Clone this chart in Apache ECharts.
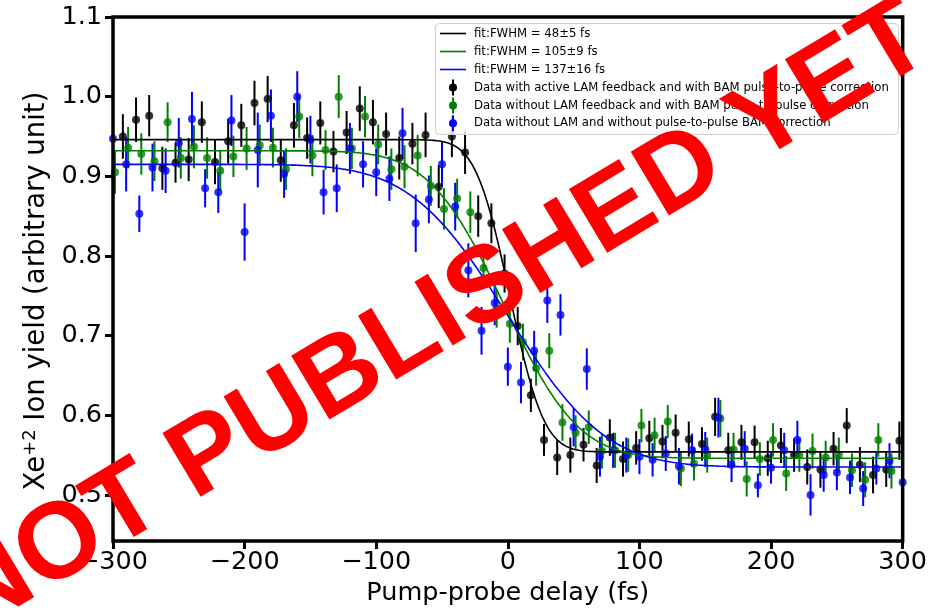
<!DOCTYPE html>
<html>
<head>
<meta charset="utf-8">
<script src="https://cdn.jsdelivr.net/npm/echarts@6/dist/echarts.min.js"></script>
<style>
  html, body { margin: 0; padding: 0; background: #ffffff; }
  #chart { width: 930px; height: 611px; }
</style>
</head>
<body>
<div id="chart"></div>
<script>
// Pump-probe delays (fs) for each measurement set
const blackX = [-292.5,-282.5,-272.5,-262.5,-252.5,-242.5,-232.5,-222.5,-212.5,-202.5,
  -192.5,-182.5,-172.5,-162.5,-152.5,-142.5,-132.5,-122.5,-112.5,-102.5,
  -92.5,-82.5,-72.5,-62.5,-52.5,-42.5,-32.5,-22.5,-12.5,-2.5,
  7.5,17.5,27.5,37.5,47.5,57.5,67.5,77.5,87.5,97.5,
  107.5,117.5,127.5,137.5,147.5,157.5,167.5,177.5,187.5,197.5,
  207.5,217.5,227.5,237.5,247.5,257.5,267.5,277.5,287.5,297.5];
const blackY = [0.950,0.971,0.976,0.910,0.917,0.921,0.968,0.918,0.944,0.964,
  0.992,0.997,0.920,0.964,0.948,0.967,0.931,0.955,0.985,0.968,
  0.953,0.923,0.941,0.952,0.887,0.950,0.930,0.850,0.841,0.778,
  0.712,0.625,0.569,0.547,0.550,0.563,0.537,0.572,0.545,0.559,
  0.571,0.567,0.578,0.570,0.564,0.598,0.556,0.566,0.566,0.546,
  0.562,0.550,0.535,0.532,0.558,0.587,0.538,0.525,0.532,0.568];
const blackErr = [0.028,0.028,0.026,0.027,0.025,0.027,0.026,0.028,0.028,0.027,
  0.028,0.029,0.027,0.028,0.026,0.027,0.026,0.027,0.028,0.028,
  0.027,0.027,0.026,0.028,0.027,0.026,0.027,0.026,0.025,0.024,
  0.024,0.021,0.020,0.022,0.022,0.021,0.022,0.023,0.022,0.021,
  0.022,0.021,0.023,0.022,0.021,0.024,0.022,0.022,0.021,0.022,
  0.022,0.021,0.022,0.023,0.021,0.022,0.022,0.023,0.022,0.024];

const greenX = [-298.5,-288.5,-278.5,-268.5,-258.5,-248.5,-238.5,-228.5,-218.5,-208.5,
  -198.5,-188.5,-178.5,-168.5,-158.5,-148.5,-138.5,-128.5,-118.5,-108.5,
  -98.5,-88.5,-78.5,-68.5,-58.5,-48.5,-38.5,-28.5,-18.5,-8.5,
  1.5,11.5,21.5,31.5,41.5,51.5,61.5,71.5,81.5,91.5,
  101.5,111.5,121.5,131.5,141.5,151.5,161.5,171.5,181.5,191.5,
  201.5,211.5,221.5,231.5,241.5,251.5,261.5,271.5,281.5,291.5];
const greenY = [0.905,0.936,0.928,0.919,0.968,0.923,0.937,0.923,0.907,0.925,
  0.935,0.939,0.936,0.909,0.975,0.926,0.933,1.000,0.935,0.975,
  0.940,0.909,0.912,0.926,0.888,0.859,0.872,0.855,0.785,0.734,
  0.715,0.692,0.659,0.681,0.591,0.578,0.585,0.555,0.556,0.550,
  0.587,0.575,0.592,0.533,0.539,0.550,0.596,0.557,0.520,0.545,
  0.569,0.527,0.550,0.555,0.547,0.550,0.531,0.519,0.569,0.530];
const greenErr = [0.027,0.026,0.026,0.025,0.025,0.026,0.027,0.026,0.025,0.026,
  0.027,0.026,0.025,0.026,0.027,0.026,0.025,0.027,0.026,0.026,
  0.025,0.026,0.027,0.026,0.025,0.026,0.025,0.026,0.025,0.024,
  0.024,0.023,0.022,0.022,0.023,0.022,0.021,0.022,0.022,0.021,
  0.021,0.022,0.021,0.022,0.021,0.022,0.023,0.021,0.022,0.021,
  0.021,0.022,0.021,0.022,0.021,0.022,0.021,0.022,0.021,0.022];

const blueX = [-300,-290,-280,-270,-260,-250,-240,-230,-220,-210,
  -200,-190,-180,-170,-160,-150,-140,-130,-120,-110,
  -100,-90,-80,-70,-60,-50,-40,-30,-20,-10,
  0,10,20,30,40,50,60,70,80,90,
  100,110,120,130,140,150,160,170,180,190,
  200,210,220,230,240,250,260,270,280,290,300];
const blueY = [0.947,0.915,0.853,0.911,0.907,0.942,0.972,0.885,0.880,0.970,
  0.830,0.933,0.976,0.903,1.000,0.946,0.880,0.885,0.935,0.915,
  0.905,0.897,0.954,0.841,0.871,0.915,0.862,0.782,0.706,0.741,
  0.661,0.641,0.681,0.744,0.726,0.585,0.658,0.548,0.556,0.550,
  0.548,0.544,0.552,0.536,0.556,0.557,0.597,0.538,0.558,0.512,
  0.534,0.556,0.569,0.500,0.525,0.528,0.522,0.508,0.533,0.543,0.516];
const blueErr = [0.030,0.034,0.023,0.030,0.028,0.031,0.034,0.024,0.026,0.032,
  0.036,0.047,0.033,0.030,0.032,0.030,0.028,0.030,0.032,0.029,
  0.030,0.028,0.032,0.036,0.030,0.028,0.030,0.034,0.030,0.028,
  0.024,0.026,0.025,0.028,0.026,0.024,0.026,0.025,0.022,0.022,
  0.022,0.021,0.022,0.023,0.021,0.022,0.025,0.022,0.022,0.015,
  0.020,0.022,0.024,0.026,0.021,0.022,0.021,0.022,0.020,0.022,0.020];

// Error-function step fits: plateau before / after, centre (fs), FWHM (fs)
const fitLabels = ['fit:FWHM = 48\u00b15 fs', 'fit:FWHM = 105\u00b19 fs', 'fit:FWHM = 137\u00b116 fs'];
const fitHigh = [0.946, 0.932, 0.915];
const fitLow = [0.554, 0.546, 0.535];
const fitCenter = [1.5, -3, 0];
const fitFwhm = [48, 105, 137];

const dataLabels = [
  'Data with active LAM feedback and with BAM pulse-to-pulse correction',
  'Data without LAM feedback and with BAM pulse-to-pulse correction',
  'Data without LAM and without pulse-to-pulse BAM correction'
];
const colors = ['#000000', '#008000', '#0000ff'];

const yTicks = [0.5, 0.6, 0.7, 0.8, 0.9, 1.0, 1.1];
const FONT = '"DejaVu Sans", sans-serif';

function erf(x) {
  const s = x < 0 ? -1 : 1;
  x = Math.abs(x);
  const t = 1 / (1 + 0.3275911 * x);
  const y = 1 - (((((1.061405429 * t - 1.453152027) * t) + 1.421413741) * t - 0.284496736) * t + 0.254829592) * t * Math.exp(-x * x);
  return s * y;
}

function fitCurve(k) {
  const sigma = fitFwhm[k] / (2 * Math.sqrt(2 * Math.log(2)));
  const pts = [];
  for (let t = -300; t <= 300; t += 1) {
    const v = fitLow[k] + (fitHigh[k] - fitLow[k]) * 0.5 * (1 - erf((t - fitCenter[k]) / (sigma * Math.SQRT2)));
    pts.push([t, v]);
  }
  return pts;
}

function zip3(xs, ys, es) {
  return xs.map((x, i) => [x, ys[i], es[i]]);
}

function errorBars(color) {
  return function (params, api) {
    const x = api.value(0), y = api.value(1), e = api.value(2);
    const a = api.coord([x, y - e]);
    const b = api.coord([x, y + e]);
    return {
      type: 'line',
      shape: { x1: a[0], y1: a[1], x2: b[0], y2: b[1] },
      style: { stroke: color, lineWidth: 2 }
    };
  };
}

const sets = [
  zip3(blackX, blackY, blackErr),
  zip3(greenX, greenY, greenErr),
  zip3(blueX, blueY, blueErr)
];

const series = [];
for (let k = 0; k < 3; k++) {
  series.push({
    type: 'line', name: fitLabels[k], data: fitCurve(k), showSymbol: false,
    lineStyle: { color: colors[k], width: 1.6 }, silent: true, animation: false
  });
}
for (let k = 0; k < 3; k++) {
  series.push({
    type: 'custom', name: dataLabels[k] + ' err', data: sets[k], clip: true,
    renderItem: errorBars(colors[k]), encode: { x: 0, y: 1 }, silent: true, animation: false
  });
  series.push({
    type: 'scatter', name: dataLabels[k], data: sets[k].map(p => [p[0], p[1]]),
    symbol: 'circle', symbolSize: 8, itemStyle: { color: colors[k] }, animation: false
  });
}

// Legend block drawn as graphic elements
const legendRows = [33.5, 51.5, 69.5, 87.5, 105.5, 123.3];
const legendItems = [
  { type: 'rect', shape: { x: 435.5, y: 23.5, width: 463, height: 111, r: 4 },
    style: { fill: 'rgba(255,255,255,0.8)', stroke: '#d0d0d0', lineWidth: 1 }, z: 50 }
];
for (let k = 0; k < 3; k++) {
  const y = legendRows[k];
  legendItems.push({ type: 'line', shape: { x1: 440, y1: y, x2: 466, y2: y },
    style: { stroke: colors[k], lineWidth: 1.6 }, z: 51 });
  legendItems.push({ type: 'text', x: 474, y: y, z: 51,
    style: { text: fitLabels[k], font: '11.7px ' + FONT, fill: '#000', verticalAlign: 'middle' } });
}
for (let k = 0; k < 3; k++) {
  const y = legendRows[k + 3];
  legendItems.push({ type: 'line', shape: { x1: 453, y1: y - 8, x2: 453, y2: y + 8 },
    style: { stroke: colors[k], lineWidth: 2 }, z: 51 });
  legendItems.push({ type: 'circle', shape: { cx: 453, cy: y, r: 4 },
    style: { fill: colors[k] }, z: 51 });
  legendItems.push({ type: 'text', x: 474, y: y, z: 51,
    style: { text: dataLabels[k], font: '11.7px ' + FONT, fill: '#000', verticalAlign: 'middle' } });
}

const watermark = {
  type: 'text', x: 439, y: 319, rotation: 31 * Math.PI / 180, z: 100,
  style: { text: 'NOT PUBLISHED YET', font: 'bold 108px "Liberation Sans", Arial, sans-serif', fill: '#ff0000',
    align: 'center', verticalAlign: 'middle' }
};

const chart = echarts.init(document.getElementById('chart'), null, { renderer: 'canvas' });
chart.setOption({
  animation: false,
  backgroundColor: '#ffffff',
  grid: { left: 113, right: 25, top: 17, bottom: 66, show: true, borderColor: '#000', borderWidth: 3.5,
    backgroundColor: 'transparent', z: 10 },
  xAxis: {
    type: 'value', min: -300, max: 300, interval: 100,
    name: 'Pump-probe delay (fs)', nameLocation: 'middle', nameGap: 37,
    nameTextStyle: { fontSize: 25.5, fontFamily: FONT, color: '#000' },
    axisLine: { show: false, onZero: false },
    axisTick: { show: true, inside: false, length: 8, lineStyle: { color: '#000', width: 3 } },
    axisLabel: { fontSize: 25.5, fontFamily: FONT, color: '#000', margin: 8,
      formatter: v => (v < 0 ? '\u2212' + Math.abs(v) : String(v)) },
    splitLine: { show: false }
  },
  yAxis: {
    type: 'value', min: 0.442, max: 1.1,
    name: '{a|Xe}{s|+2}{a| Ion yield (arbitrary unit)}', nameLocation: 'middle', nameGap: 52,
    nameTextStyle: { fontSize: 27.5, fontFamily: FONT, color: '#000', padding: [0, 24, 0, 0],
      rich: { a: { fontSize: 27.5, fontFamily: FONT, color: '#000' },
              s: { fontSize: 18, fontFamily: FONT, color: '#000', verticalAlign: 'top', padding: [0, 0, 13, 0] } } },
    axisLine: { show: false, onZero: false },
    axisTick: { show: true, inside: false, length: 8, lineStyle: { color: '#000', width: 3 }, customValues: yTicks },
    axisLabel: { fontSize: 25.5, fontFamily: FONT, color: '#000', margin: 11, customValues: yTicks,
      formatter: v => Number(v).toFixed(1) },
    splitLine: { show: false }
  },
  graphic: legendItems.concat([watermark]),
  series: series
});
</script>
</body>
</html>
